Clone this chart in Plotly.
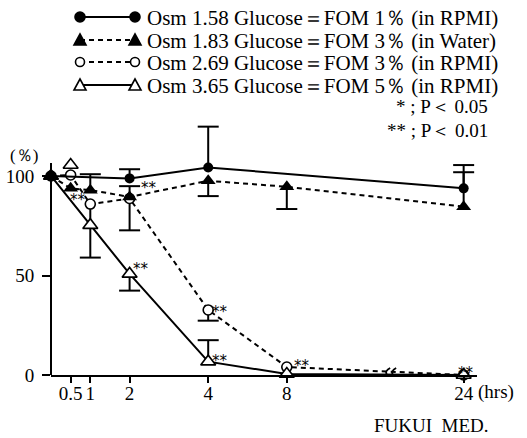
import plotly.graph_objects as go

# ---------------- data ----------------
tick_times = [0.5, 1, 2, 4, 8, 24]
tick_labels = ["0.5", "1", "2", "4", "8", "24"]

# Osm 1.58 Glucose=FOM 1% (in RPMI)  -- filled circle, solid
fom1_times = [0, 2, 4, 24]
fom1_vals = [100, 98.8, 104.3, 93.8]
fom1_err_up = [0, 4.6, 20.5, 8.1]
fom1_err_down = [0, 0, 0, 0]

# Osm 1.83 Glucose=FOM 3% (in Water) -- filled triangle, dashed
fom3w_times = [0, 0.5, 1, 2, 4, 8, 24]
fom3w_vals = [100, 93.8, 92.9, 89.5, 97.6, 94.6, 84.6]
fom3w_err_up = [0, 0, 8.0, 5.4, 0, 0, 20.9]
fom3w_err_down = [0, 0, 0, 0, 7.7, 11.2, 0]

# Osm 2.69 Glucose=FOM 3% (in RPMI)  -- open circle, dashed
fom3r_times = [0, 0.5, 1, 2, 4, 8, 24]
fom3r_vals = [100, 100.5, 85.9, 88.7, 32.7, 4.0, 0.0]
fom3r_err_up = [0, 0, 0, 0, 0, 0, 0]
fom3r_err_down = [0, 0, 26.9, 16.0, 5.4, 0, 0]

# Osm 3.65 Glucose=FOM 5% (in RPMI)  -- open triangle, solid
fom5_times = [0, 1, 2, 4, 8, 24]
fom5_vals = [100, 75.3, 50.8, 6.7, 0.5, 0.0]
fom5_err_up = [0, 0, 0, 10.8, 0, 0]
fom5_err_down = [0, 0, 8.4, 0, 0, 0]
fom5_extra_times = [0.5]
fom5_extra_vals = [105.5]

legend_labels = [
    "Osm 1.58 Glucose＝FOM 1％ (in RPMI)",
    "Osm 1.83 Glucose＝FOM 3％ (in Water)",
    "Osm 2.69 Glucose＝FOM 3％ (in RPMI)",
    "Osm 3.65 Glucose＝FOM 5％ (in RPMI)",
]
sig_labels = ["* ; P＜ 0.05", "** ; P＜ 0.01"]

# ---------------- broken time axis (0-4 linear, 4-8 compressed, break, 24) ----------------
AXIS_POS = {0: 0.0, 0.5: 0.5, 1: 1.0, 2: 2.0, 4: 4.0, 8: 6.0, 24: 10.5}
BREAK_POS = 8.63


def pos(ts):
    return [AXIS_POS[t] for t in ts]


FONT = "Liberation Serif"
STAR_FONT = "DejaVu Sans"
W, H = 527, 438
ML, MR, MT, MB = 51, 50, 5, 63
PW, PH = W - ML - MR, H - MT - MB
PX_PER_HR = 39.3
YTOP_PX = 116.3  # pixel row of the top of the y range
Y_MAX = 130

fig = go.Figure()


def add_errors(ts, vals, ups, downs):
    xs, ys, cx, cy = [], [], [], []
    for t, v, u, d in zip(ts, vals, ups, downs):
        p = AXIS_POS[t]
        if u > 0:
            xs += [p, p, None]
            ys += [v, v + u, None]
            cx.append(p)
            cy.append(v + u)
        if d > 0:
            xs += [p, p, None]
            ys += [v, v - d, None]
            cx.append(p)
            cy.append(v - d)
    if xs:
        fig.add_trace(go.Scatter(x=xs, y=ys, mode="lines", line=dict(color="black", width=2),
                                 showlegend=False, hoverinfo="skip", cliponaxis=False))
        fig.add_trace(go.Scatter(x=cx, y=cy, mode="markers",
                                 marker=dict(symbol="line-ew", size=15, line=dict(color="black", width=2)),
                                 showlegend=False, hoverinfo="skip", cliponaxis=False))


add_errors(fom1_times, fom1_vals, fom1_err_up, fom1_err_down)
add_errors(fom3w_times, fom3w_vals, fom3w_err_up, fom3w_err_down)
add_errors(fom3r_times, fom3r_vals, fom3r_err_up, fom3r_err_down)
add_errors(fom5_times, fom5_vals, fom5_err_up, fom5_err_down)

SOLID = dict(color="black", width=2)
DASHED = dict(color="black", width=2, dash="5px,4px")

fig.add_trace(go.Scatter(x=pos(fom3r_times), y=fom3r_vals, mode="lines+markers", line=DASHED,
                         marker=dict(symbol="circle", size=10, color="white", line=dict(color="black", width=1.6)),
                         name=legend_labels[2], cliponaxis=False, showlegend=False))
fig.add_trace(go.Scatter(x=pos(fom5_times), y=fom5_vals, mode="lines+markers", line=SOLID,
                         marker=dict(symbol="triangle-up", size=13, color="white", line=dict(color="black", width=1.6)),
                         name=legend_labels[3], cliponaxis=False, showlegend=False))
fig.add_trace(go.Scatter(x=pos(fom5_extra_times), y=fom5_extra_vals, mode="markers",
                         marker=dict(symbol="triangle-up", size=13, color="white", line=dict(color="black", width=1.6)),
                         name=legend_labels[3], cliponaxis=False, showlegend=False))
fig.add_trace(go.Scatter(x=pos(fom3w_times), y=fom3w_vals, mode="lines+markers", line=DASHED,
                         marker=dict(symbol="triangle-up", size=13, color="black"),
                         name=legend_labels[1], cliponaxis=False, showlegend=False))
fig.add_trace(go.Scatter(x=pos(fom1_times), y=fom1_vals, mode="lines+markers", line=SOLID,
                         marker=dict(symbol="circle", size=10, color="black"),
                         name=legend_labels[0], cliponaxis=False, showlegend=False))

# ---------------- significance marks ----------------
sig_points = [
    (fom3r_times, fom3r_vals, 1, -12, 4),
    (fom3w_times, fom3w_vals, 2, 19, 9),
    (fom5_times, fom5_vals, 2, 11, 5),
    (fom3r_times, fom3r_vals, 4, 12, -2),
    (fom5_times, fom5_vals, 4, 12, 1),
    (fom3r_times, fom3r_vals, 8, 15, 1),
    (fom3r_times, fom3r_vals, 24, 2, 2),
]
annotations = []
for ts, vs, t, dx, dy in sig_points:
    i = ts.index(t)
    annotations.append(dict(x=AXIS_POS[t], y=vs[i], xref="x", yref="y", text="**", showarrow=False,
                            xshift=dx, yshift=dy, font=dict(family=STAR_FONT, size=15, color="black")))

# axis captions
annotations.append(dict(x=0, y=100, xref="x", yref="y", text="(％)", showarrow=False, xanchor="right",
                        xshift=-11, yshift=21, font=dict(family=FONT, size=17, color="black")))
annotations.append(dict(x=AXIS_POS[24], y=0, xref="x", yref="y", text="(hrs)", showarrow=False,
                        xanchor="left", yanchor="middle", xshift=12, yshift=-17,
                        font=dict(family=FONT, size=19, color="black")))
annotations.append(dict(x=(431 - ML) / PW, y=(H - MB - 425) / PH, xref="paper", yref="paper",
                        text="FUKUI  MED.", showarrow=False, xanchor="center", yanchor="middle",
                        font=dict(family=FONT, size=19, color="black")))

# ---------------- custom legend (line key with a marker at both ends) ----------------
def px_x(px):
    return (px - ML) / PW


def px_y(py):
    return (H - MB - py) / PH


shapes = []
row_y = [17, 40, 62, 85]
key_styles = [
    ("circle", True, "solid"),
    ("triangle", True, "dash"),
    ("circle", False, "dash"),
    ("triangle", False, "solid"),
]
KEY_X0, KEY_X1, TEXT_X = 80, 135, 145
for ry, (sym, filled, dash), lab in zip(row_y, key_styles, legend_labels):
    shapes.append(dict(type="line", xref="paper", yref="paper", x0=px_x(KEY_X0), x1=px_x(KEY_X1),
                       y0=px_y(ry), y1=px_y(ry),
                       line=dict(color="black", width=2, dash="5px,4px" if dash == "dash" else "solid")))
    for kx in (KEY_X0, KEY_X1):
        fill = "black" if filled else "white"
        if sym == "circle":
            r = 5 if filled else 4.5
            shapes.append(dict(type="circle", xref="paper", yref="paper", xsizemode="pixel", ysizemode="pixel",
                               xanchor=px_x(kx), yanchor=px_y(ry), x0=-r, x1=r, y0=-r, y1=r,
                               fillcolor=fill, line=dict(color="black", width=1.6)))
        else:
            shapes.append(dict(type="path", xref="paper", yref="paper", xsizemode="pixel", ysizemode="pixel",
                               xanchor=px_x(kx), yanchor=px_y(ry), path="M -6,-5 L 6,-5 L 0,6 Z",
                               fillcolor=fill, line=dict(color="black", width=1.6)))
    annotations.append(dict(x=px_x(TEXT_X), y=px_y(ry + 1), xref="paper", yref="paper", text=lab,
                            showarrow=False, xanchor="left", yanchor="middle",
                            font=dict(family=FONT, size=21, color="black")))

for ry, lab in zip([107, 130], sig_labels):
    annotations.append(dict(x=px_x(490), y=px_y(ry), xref="paper", yref="paper", text=lab,
                            showarrow=False, xanchor="right", yanchor="middle",
                            font=dict(family=FONT, size=19, color="black")))

# y axis line (stops a little above 100)
shapes.append(dict(type="line", xref="paper", yref="y", x0=0, x1=0, y0=0, y1=106.5,
                   line=dict(color="black", width=2)))
# axis break mark
for off in (-3, 3):
    shapes.append(dict(type="path", xref="x", yref="y", xsizemode="pixel", ysizemode="pixel",
                       xanchor=BREAK_POS, yanchor=0,
                       path=f"M {off-3},-7 Q {off+3},-4 {off},0 Q {off-3},4 {off+3},7",
                       line=dict(color="black", width=1.8)))

fig.update_layout(
    width=W, height=H,
    margin=dict(l=ML, r=MR, t=MT, b=MB),
    paper_bgcolor="white", plot_bgcolor="white",
    font=dict(family=FONT, size=19, color="black"),
    showlegend=False,
    xaxis=dict(range=[0, PW / PX_PER_HR], tickvals=pos(tick_times), ticktext=tick_labels,
               tickangle=0, showline=True, linecolor="black", linewidth=2, ticks="outside", ticklen=6,
               tickwidth=2, tickcolor="black", showgrid=False, zeroline=False, ticklabelstandoff=-6,
               tickfont=dict(family=FONT, size=19, color="black")),
    yaxis=dict(domain=[0, (H - MB - YTOP_PX) / PH], range=[0, Y_MAX], tickvals=[0, 50, 100],
               ticktext=["0", "50", "100"], showline=False, ticks="outside", ticklen=8, tickwidth=2,
               tickcolor="black", showgrid=False, zeroline=False, ticklabelstandoff=4,
               tickfont=dict(family=FONT, size=19, color="black")),
    shapes=shapes,
    annotations=annotations,
)

fig.write_html("out.html", config={"displayModeBar": False},
               post_script="document.body.style.margin='0';")
